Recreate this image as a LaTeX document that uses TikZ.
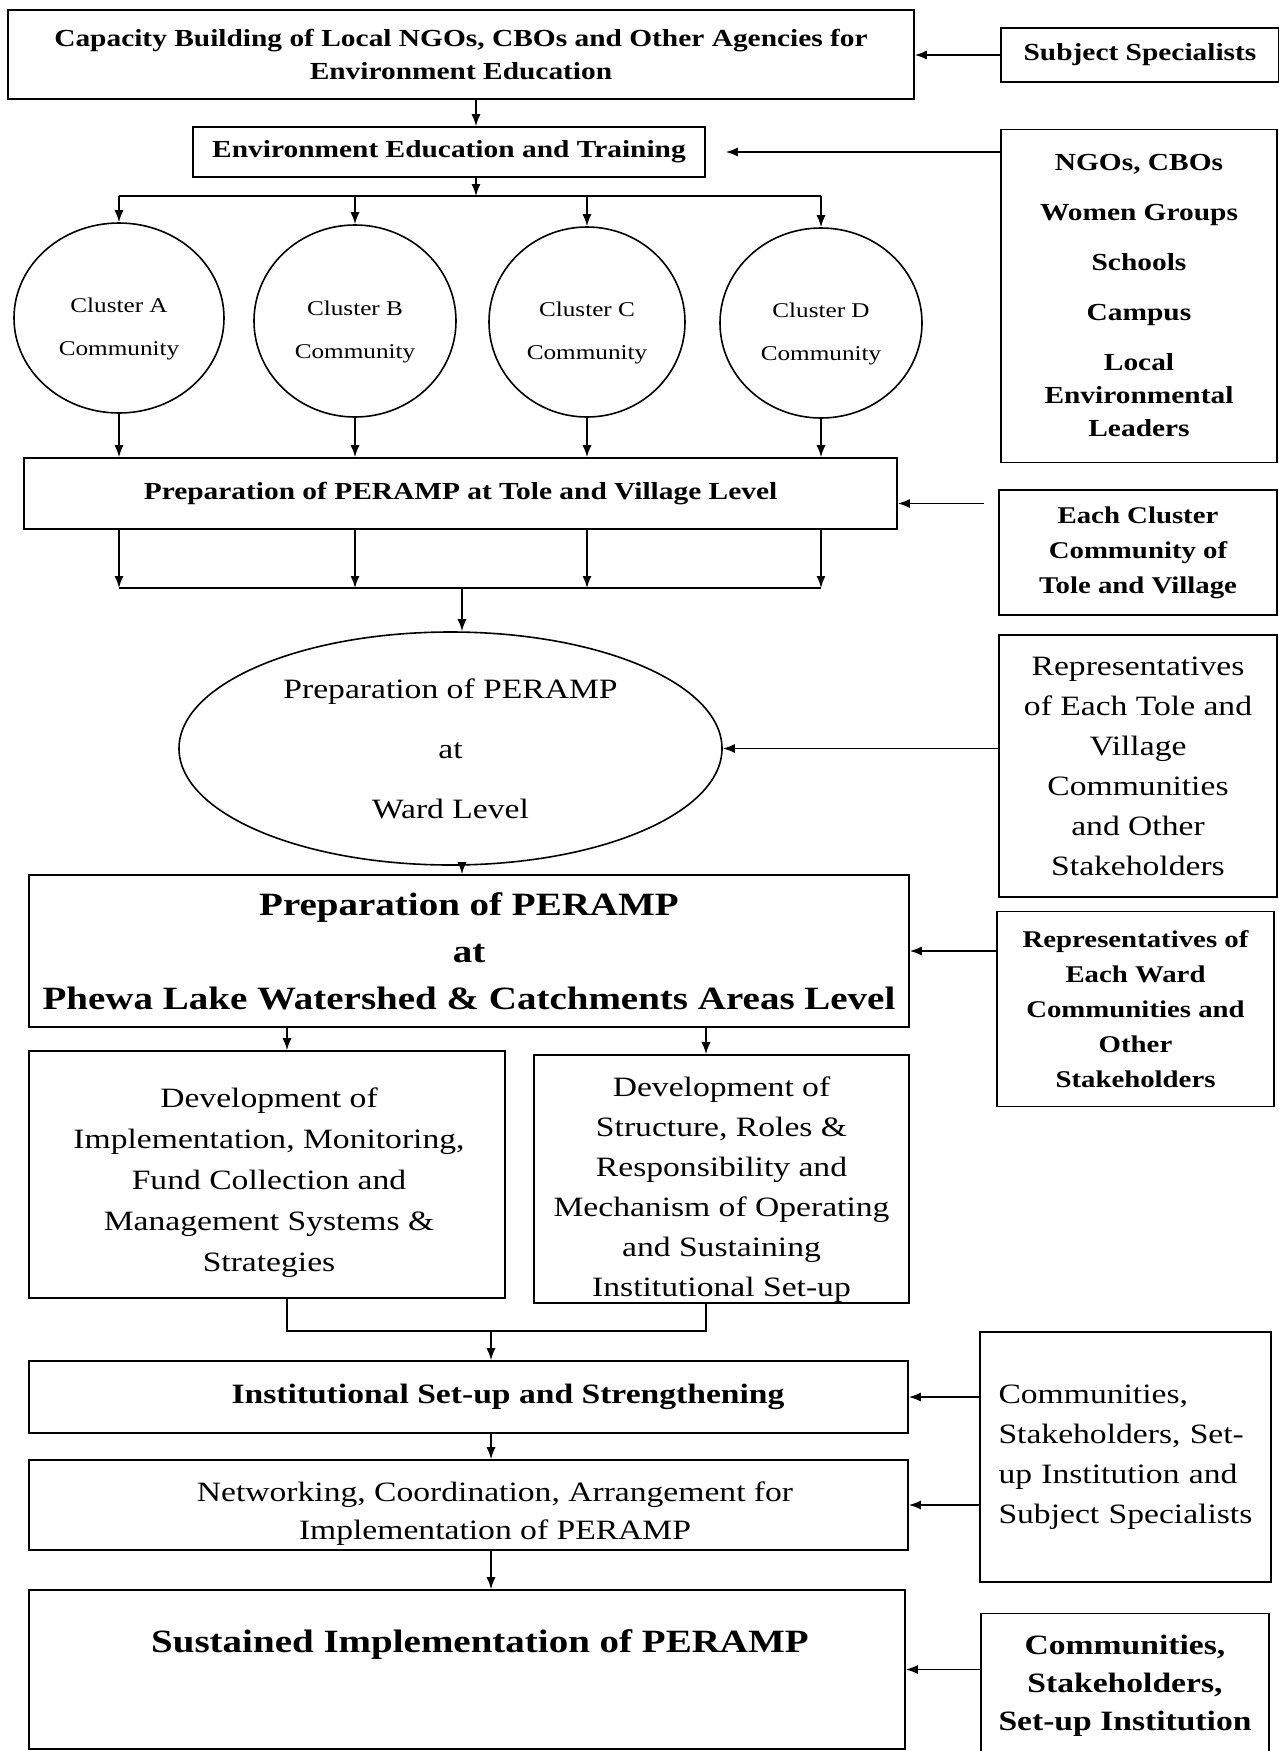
\documentclass[tikz,border=0pt]{standalone}
\usepackage{fontspec}
\setmainfont{Liberation Serif}[FakeStretch=1.2]
\usetikzlibrary{arrows.meta,shapes.geometric,calc}

\begin{document}
\begin{tikzpicture}[x=1pt, y=-1pt,
  box/.style={rectangle, draw, line width=1.6pt, inner sep=0pt, align=center},
  ring/.style={ellipse, draw, line width=1.6pt, inner sep=0pt, align=center},
  link/.style={->, >={Latex[length=12pt,width=9pt]}, line width=1.5pt},
  wire/.style={line width=1.5pt},
  hdr/.style={font=\bfseries\fontsize{24.5}{33}\selectfont},
  side/.style={font=\bfseries\fontsize{24}{35}\selectfont},
  body/.style={font=\fontsize{28}{40}\selectfont, align=center},
  big/.style={font=\bfseries\fontsize{32.5}{47}\selectfont, align=center},
  mid/.style={font=\bfseries\fontsize{28}{38}\selectfont, align=center},
  clus/.style={font=\fontsize{21}{43}\selectfont, align=center},
]
\useasboundingbox (0,0) rectangle (1279,1751);

% Top boxes
\node[box, hdr, minimum width=906pt, minimum height=89pt] (cap) at (461,54.5) {Capacity Building of Local NGOs, CBOs and Other Agencies for\\Environment Education};
\node[box, hdr, minimum width=278pt, minimum height=54pt] (subj) at (1140,55) {Subject Specialists};
\node[box, hdr, minimum width=512pt, minimum height=50pt] (ee) at (449,152) {Environment Education and Training};
\node[box, hdr, minimum width=276pt, minimum height=333pt] (ngo) at (1139,296) {NGOs, CBOs\\[17pt]Women Groups\\[17pt]Schools\\[17pt]Campus\\[17pt]Local\\Environmental\\Leaders};

% Cluster communities
\node[ring, minimum width=210pt, minimum height=190pt] (clA) at (119,318) {};
\node[ring, minimum width=202pt, minimum height=192pt] (clB) at (355,321) {};
\node[ring, minimum width=196pt, minimum height=190pt] (clC) at (587,322) {};
\node[ring, minimum width=202pt, minimum height=190pt] (clD) at (821,323) {};
\foreach \c/\t in {clA/A,clB/B,clC/C,clD/D}
  \node[clus] (t\c) at ([yshift=-11pt]\c.center) {Cluster \t\\Community};

% Tole and ward level
\node[box, hdr, minimum width=873pt, minimum height=71pt] (tole) at (460.5,493.5) {Preparation of PERAMP at Tole and Village Level};
\node[box, side, minimum width=278pt, minimum height=125pt] (ecl) at (1138,552.5) {Each Cluster\\Community of\\Tole and Village};
\node[ring, font=\fontsize{28}{60}\selectfont, minimum width=543pt, minimum height=233pt] (ell) at (450.5,748.5) {Preparation of PERAMP\\at\\Ward Level};
\node[box, body, minimum width=278pt, minimum height=262pt] (reps) at (1138,766) {Representatives\\of Each Tole and\\Village\\Communities\\and Other\\Stakeholders};

% Watershed level
\node[box, big, minimum width=880pt, minimum height=152pt] (phewa) at (469,951) {Preparation of PERAMP\\at\\Phewa Lake Watershed \& Catchments Areas Level};
\node[box, side, minimum width=277pt, minimum height=195pt] (wrep) at (1135.5,1009) {Representatives of\\Each Ward\\Communities and\\Other\\Stakeholders};

% Development boxes
\node[box, minimum width=476pt, minimum height=247pt] (devL) at (267,1174.5) {};
\node[body, font=\fontsize{28}{41}\selectfont] (devLT) at (269,1183) {Development of\\Implementation, Monitoring,\\Fund Collection and\\Management Systems \&\\Strategies};
\node[box, minimum width=375pt, minimum height=248pt] (devR) at (721.5,1179) {};
\node[body] (devRT) at (721.5,1190) {Development of\\Structure, Roles \&\\Responsibility and\\Mechanism of Operating\\and Sustaining\\Institutional Set-up};

% Institution and implementation
\node[box, minimum width=879pt, minimum height=72pt] (inst) at (468.5,1397) {};
\node[mid] (instT) at (508,1397) {Institutional Set-up and Strengthening};
\node[box, body, align=left, text width=254pt, minimum width=291pt, minimum height=250pt] (comm) at (1125.5,1457) {Communities,\\Stakeholders, Set-\\up Institution and\\Subject Specialists};
\node[box, minimum width=879pt, minimum height=90pt] (net) at (468.5,1505) {};
\node[body, font=\fontsize{28}{38}\selectfont] (netT) at (495,1514) {Networking, Coordination, Arrangement for\\Implementation of PERAMP};
\node[box, minimum width=876pt, minimum height=159pt] (sus) at (467,1669.5) {};
\node[big] (susT) at (480,1644) {Sustained Implementation of PERAMP};
\node[box, mid, minimum width=288pt, minimum height=145pt] (last) at (1125,1686) {Communities,\\Stakeholders,\\Set-up Institution};

% Helper points for the buses
\coordinate (bus1) at (476,196);
\coordinate (bus2) at (462,588);
\coordinate (colL) at (287,1000);
\coordinate (colR) at (706,1000);
\coordinate (join) at (491,1331);
\coordinate (tin) at ([yshift=-10pt]tole.east);

% Main flow
\draw[link] (cap.south -| bus1) -- (ee.north -| bus1);
\draw[link] (ee.south -| bus1) -- (bus1);
\draw[wire] (bus1 -| clA.north) -- (bus1 -| clD.north);
\foreach \c in {clA,clB,clC,clD} {
  \draw[link] (bus1 -| \c.north) -- (\c.north);
  \draw[link] (\c.south) -- (\c.south |- tole.north);
  \draw[link] (tole.south -| \c.south) -- (bus2 -| \c.south);
}
\draw[wire] (bus2 -| clA.south) -- (bus2 -| clD.south);
\draw[link] (bus2) -- (bus2 |- ell.north);
\draw[link] (ell.south -| bus2) -- (phewa.north -| bus2);
\draw[link] (phewa.south -| colL) -- (devL.north -| colL);
\draw[link] (phewa.south -| colR) -- (devR.north -| colR);
\draw[wire] (devL.south -| colL) |- (join) -| (devR.south -| colR);
\draw[link] (join) -- (join |- inst.north);
\draw[link] (inst.south -| join) -- (net.north -| join);
\draw[link] (net.south -| join) -- (sus.north -| join);

% Inputs from the right
\draw[link] (subj.west) -- (subj.west -| cap.east);
\draw[link, shorten >=20pt] (ee.east -| ngo.west) -- (ee.east);
\draw[link, shorten <=14pt] (tin -| ecl.west) -- (tin);
\draw[link] (ell.east -| reps.west) -- (ell.east);
\draw[link] (phewa.east -| wrep.west) -- (phewa.east);
\draw[link] (inst.east -| comm.west) -- (inst.east);
\draw[link] (net.east -| comm.west) -- (net.east);
\draw[link] (sus.east -| last.west) -- (sus.east);
\end{tikzpicture}
\end{document}
